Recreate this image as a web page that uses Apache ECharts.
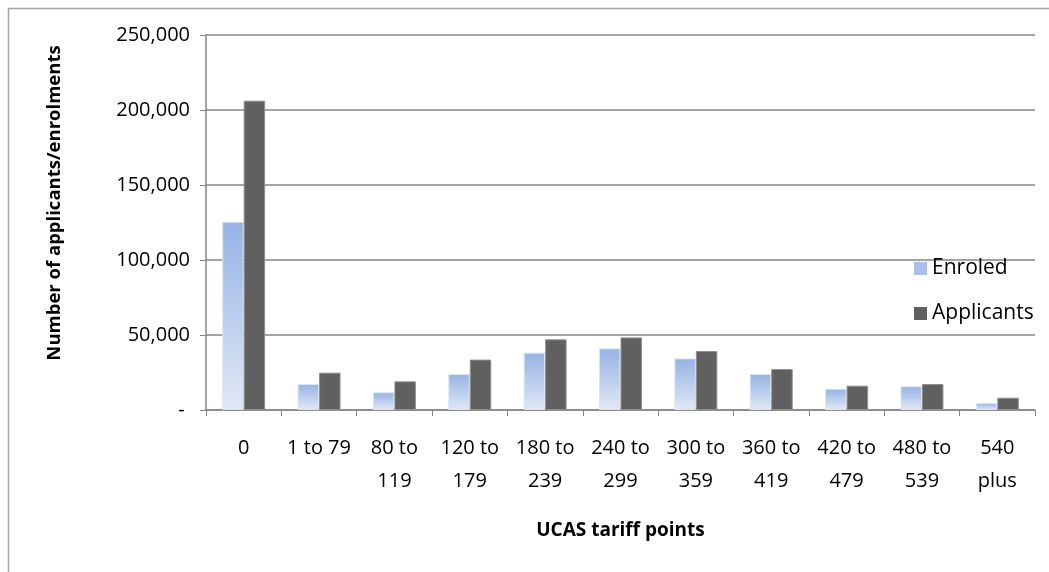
<!DOCTYPE html>
<html>
<head>
<meta charset="utf-8">
<script src="https://cdn.jsdelivr.net/npm/echarts@6/dist/echarts.min.js"></script>
<style>
  html, body { margin: 0; padding: 0; background: #fff; }
  #chart { width: 1049px; height: 572px; }
</style>
</head>
<body>
<div id="chart"></div>
<script>
// UCAS tariff point bands
const categories = ['0', '1 to 79', '80 to\n119', '120 to\n179', '180 to\n239', '240 to\n299',
  '300 to\n359', '360 to\n419', '420 to\n479', '480 to\n539', '540\nplus'];

// Enrolments per band
const enroled = [125500, 17300, 11800, 24000, 38200, 41100, 34400, 24000, 14200, 15800, 4700];

// Applicants per band
const applicants = [206200, 24900, 19100, 33600, 47100, 48400, 39300, 27300, 16200, 17300, 8200];

// Value axis ticks
const yMin = 0, yMax = 250000, yStep = 50000;

const FONT = '"Open Sans", sans-serif';
const AXIS_GREY = '#868686';

const enroledFill = new echarts.graphic.LinearGradient(0, 0, 0, 1, [
  { offset: 0, color: '#95b3e3' },
  { offset: 1, color: '#e1e8f5' }
]);

const chart = echarts.init(document.getElementById('chart'), null, { renderer: 'canvas' });

chart.setOption({
  animation: false,
  backgroundColor: '#ffffff',
  textStyle: { fontFamily: FONT },
  graphic: [
    {
      type: 'rect',
      shape: { x: 8.5, y: 8.5, width: 1200, height: 800 },
      style: { fill: 'none', stroke: '#a6a6a6', lineWidth: 1.5 },
      z: -10
    },
    {
      type: 'text',
      x: 55, y: 203,
      rotation: Math.PI / 2,
      style: {
        text: 'Number of applicants/enrolments',
        font: 'bold 18.5px ' + FONT,
        fill: '#000',
        align: 'center',
        verticalAlign: 'middle'
      }
    }
  ],
  grid: { left: 206, right: 14, top: 35, bottom: 162, containLabel: false },
  legend: {
    orient: 'vertical',
    left: 914,
    top: 258,
    padding: 0,
    itemWidth: 13,
    itemHeight: 13,
    itemGap: 24,
    icon: 'rect',
    textStyle: { fontFamily: FONT, fontSize: 21, color: '#000', lineHeight: 21 },
    data: [
      { name: 'Enroled', itemStyle: { color: '#a9c0e8', borderWidth: 0 } },
      { name: 'Applicants', itemStyle: { color: '#606060', borderWidth: 0 } }
    ]
  },
  xAxis: {
    type: 'category',
    data: categories,
    name: 'UCAS tariff points',
    nameLocation: 'middle',
    nameGap: 111,
    nameTextStyle: { fontFamily: FONT, fontSize: 19, fontWeight: 'bold', color: '#000' },
    axisLine: { lineStyle: { color: AXIS_GREY, width: 1.5 } },
    axisTick: { show: true, alignWithLabel: false, length: 6, lineStyle: { color: AXIS_GREY } },
    axisLabel: {
      interval: 0,
      margin: 22,
      fontFamily: FONT,
      fontSize: 20,
      lineHeight: 33,
      color: '#000'
    },
    splitLine: { show: false }
  },
  yAxis: {
    type: 'value',
    min: yMin,
    max: yMax,
    interval: yStep,
    axisLine: { show: true, lineStyle: { color: AXIS_GREY, width: 1.5 } },
    axisTick: { show: true, length: 6, lineStyle: { color: AXIS_GREY } },
    axisLabel: {
      margin: 16,
      fontFamily: FONT,
      fontSize: 20,
      color: '#000',
      formatter: v => v === 0 ? '- ' : v.toLocaleString('en-GB')
    },
    splitLine: { show: true, lineStyle: { color: AXIS_GREY, width: 1.5 } }
  },
  series: [
    {
      name: 'Enroled',
      type: 'bar',
      data: enroled,
      barGap: '0%',
      barCategoryGap: '43%',
      itemStyle: { color: enroledFill, borderColor: '#dbe4f4', borderWidth: 1 }
    },
    {
      name: 'Applicants',
      type: 'bar',
      data: applicants,
      barGap: '0%',
      barCategoryGap: '43%',
      itemStyle: { color: '#606060', borderColor: '#8f8f8f', borderWidth: 1 }
    }
  ]
});
</script>
</body>
</html>
